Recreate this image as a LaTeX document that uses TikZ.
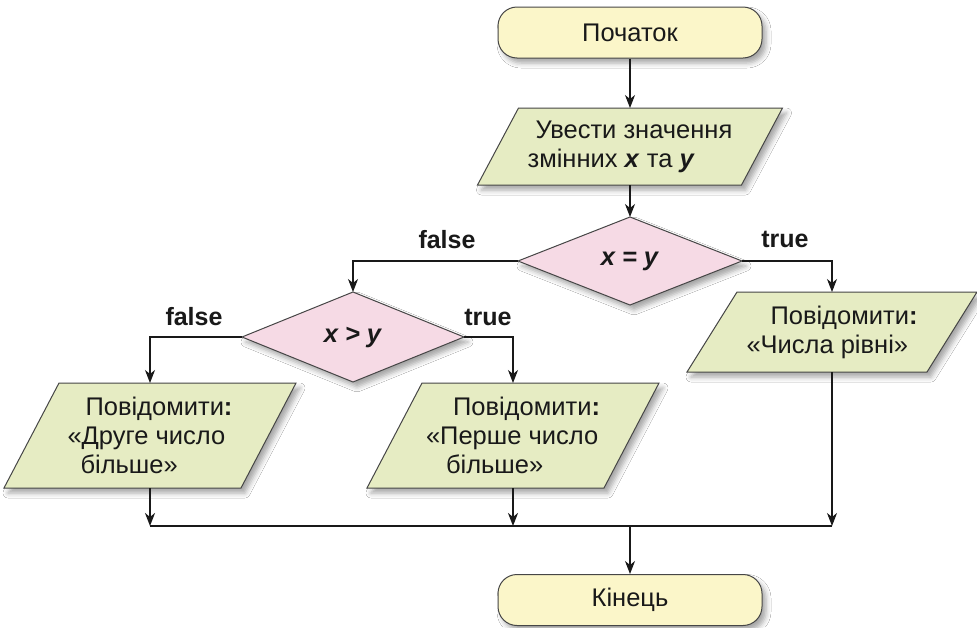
\documentclass[tikz,border=0pt]{standalone}
\usepackage{fontspec}
\setmainfont{Liberation Sans}
\usetikzlibrary{arrows.meta,shadows,shadows.blur}
\definecolor{termfill}{RGB}{251,246,201}
\definecolor{iofill}{RGB}{230,236,195}
\definecolor{decfill}{RGB}{246,218,229}
\definecolor{edgecol}{RGB}{70,70,70}
\definecolor{inkcol}{RGB}{25,25,25}
\tikzset{
  shadowed/.style={blur shadow={shadow xshift=4pt,shadow yshift=-5pt,shadow blur radius=5pt,shadow opacity=35}},
  termbox/.style={rectangle,rounded corners=19pt,draw=edgecol,line width=1pt,fill=termfill,shadowed,
    minimum width=264pt,minimum height=51pt,inner sep=0pt,text=inkcol,font=\fontsize{25.5}{29}\selectfont},
  iobox/.style={draw=edgecol,line width=1pt,fill=iofill,shadowed},
  decbox/.style={draw=edgecol,line width=1pt,fill=decfill,shadowed},
  boxtext/.style={inner sep=0pt,outer sep=0pt,align=left,text=inkcol,font=\fontsize{25.5}{29}\selectfont},
  lbl/.style={inner sep=0pt,anchor=base,text=inkcol,font=\fontsize{25}{29}\selectfont\bfseries},
  conn/.style={draw=inkcol,line width=1.1pt},
  arr/.style={conn,-{Stealth[length=13pt,width=10pt,inset=4pt]}},
  thickarr/.style={arr,line width=2pt},
}
\newcommand\ioshape[7]{%
  \path[iobox] ({#2-#4/2+#6/2},{#3-#5/2}) -- ({#2+#4/2+#6/2},{#3-#5/2}) -- ({#2+#4/2-#6/2},{#3+#5/2}) -- ({#2-#4/2-#6/2},{#3+#5/2}) -- cycle;
  \node[boxtext,minimum width=#4,minimum height=#5] (#1) at (#2,#3) {#7};
}
\newcommand\decshape[6]{%
  \path[decbox] ({#2-#4/2},#3) -- (#2,{#3-#5/2}) -- ({#2+#4/2},#3) -- (#2,{#3+#5/2}) -- cycle;
  \node[boxtext,minimum width=#4,minimum height=#5] (#1) at (#2,#3) {#6};
}
\begin{document}
\begin{tikzpicture}[x=1pt,y=-1pt]
\fill[white] (0,0) rectangle (977,627);
\useasboundingbox (0,0) rectangle (977,627);

\node[termbox] (start) at (630,32.5) {Початок};
\ioshape{input}{630}{146.5}{264}{77}{41}{\hspace*{8pt}Увести значення\\змінних \textbf{\textit{x}} та \textbf{\textit{y}}}
\decshape{d1}{630}{261}{224}{88}{\textbf{\textit{x = y}}}
\decshape{d2}{353}{337}{222}{90}{\textbf{\textit{x > y}}}
\ioshape{out3}{832}{332}{240}{80}{50}{\hspace*{24pt}Повідомити\textbf{:}\\«Числа рівні»}
\ioshape{out1}{150}{435.5}{237}{105}{55}{\hspace*{18pt}Повідомити\textbf{:}\\«Друге число\\\hspace*{13pt}більше»}
\ioshape{out2}{513}{435.5}{237}{105}{55}{\hspace*{27pt}Повідомити\textbf{:}\\«Перше число\\\hspace*{20pt}більше»}
\node[termbox] (end) at (630,600) {Кінець};

\node[lbl] (f1) at (447,248) {false};
\node[lbl] (t1) at (785,247) {true};
\node[lbl] (f2) at (194,325) {false};
\node[lbl] (t2) at (488,325) {true};

\coordinate (m1) at (150,526);
\coordinate (m2) at (513,526);
\coordinate (m3) at (832,526);
\coordinate (mc) at (630,526);

\draw[arr] (start.south) -- (input.north);
\draw[arr] (input.south) -- (d1.north);
\draw[arr] (d1.west) -| (d2.north);
\draw[arr] (d1.east) -| (out3.north);
\draw[arr] (d2.west) -| (out1.north);
\draw[arr] (d2.east) -| (out2.north);
\draw[thickarr] (out1.south) -- (m1);
\draw[thickarr] (out2.south) -- (m2);
\draw[arr] (out3.south) -- (m3);
\draw[conn,line width=1.6pt] (m1) -- (m3);
\draw[arr] (mc) -- (end.north);
\end{tikzpicture}
\end{document}
